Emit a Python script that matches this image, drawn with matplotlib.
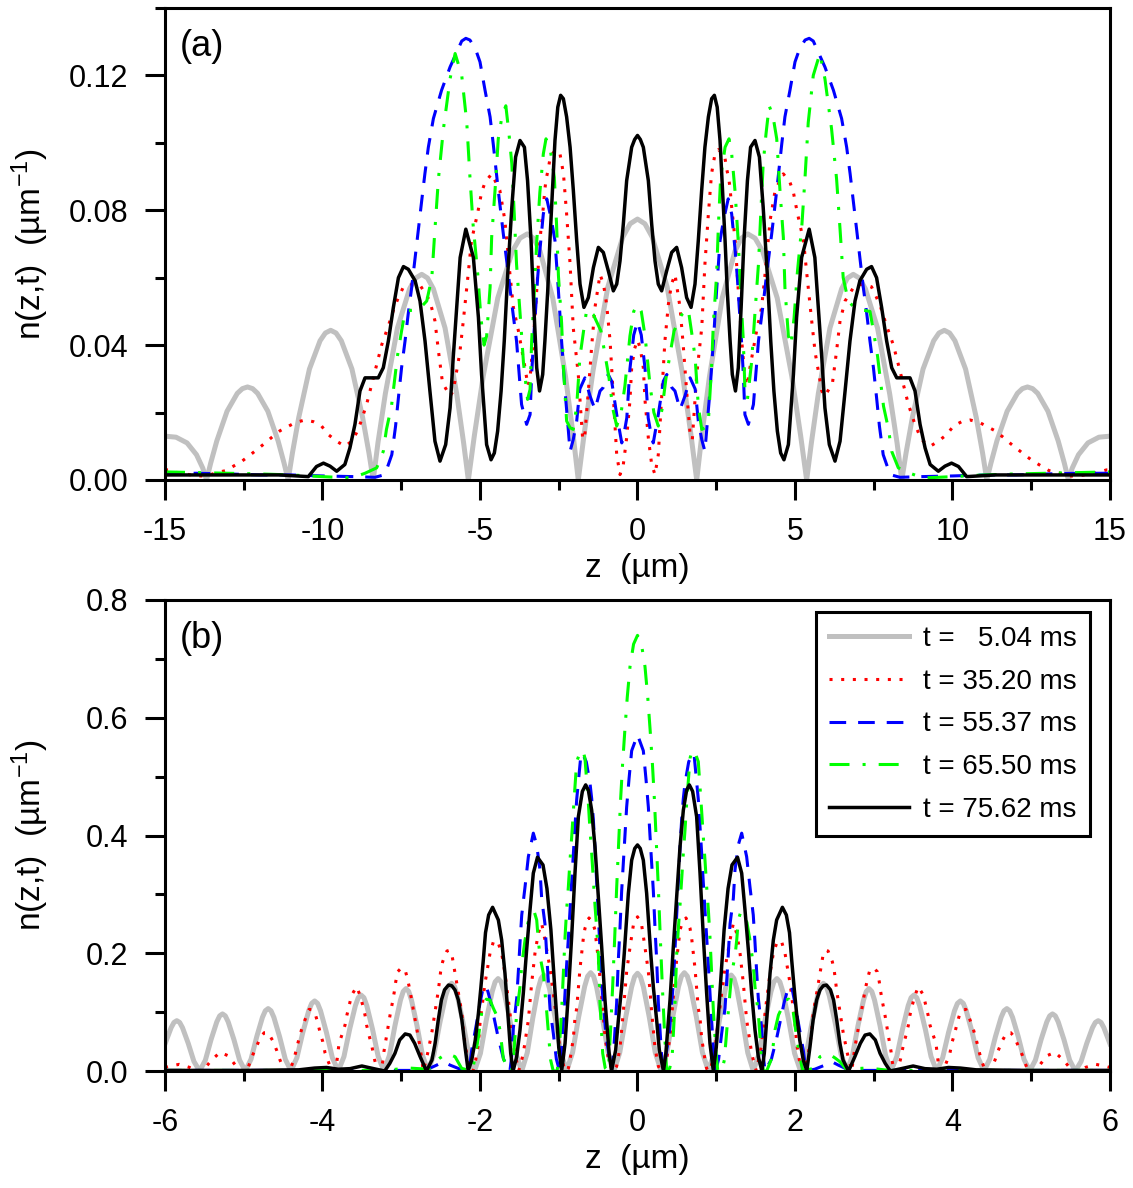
import numpy as np
import matplotlib
matplotlib.use('Agg')
import matplotlib.pyplot as plt
from matplotlib.ticker import MultipleLocator, FormatStrFormatter

# ---- data (z >= 0 half; the profiles are symmetric about z = 0) ----
# panel (a)
za_grey = [0, 0.235, 0.47, 0.94, 1.41, 1.69, 1.88,
           2.04, 2.285, 2.69, 3.095, 3.2975, 3.5, 3.734, 3.97, 4.435, 4.90, 5.18, 5.37,
           5.52, 5.74, 6.11, 6.48, 6.665, 6.85, 7.0425, 7.235, 7.62, 8.005, 8.24, 8.39,
           8.525, 8.7275, 9.065, 9.4025, 9.571, 9.74, 9.909, 10.0775, 10.415, 10.7525, 10.955, 11.09,
           11.22, 11.41, 11.735, 12.06, 12.219, 12.38, 12.5425, 12.705, 13.03, 13.355, 13.55, 13.68,
           13.8, 14.0, 14.3, 14.65, 15.0]
na_grey = [0.0774, 0.076, 0.072, 0.0573, 0.0325, 0.0139, 0.0,
           0.0131, 0.0307, 0.054, 0.0679, 0.0717, 0.073, 0.0717, 0.0679, 0.054, 0.0307, 0.0131, 0.0,
           0.011, 0.0256, 0.0451, 0.0567, 0.0599, 0.061, 0.0599, 0.0567, 0.0451, 0.0256, 0.011, 0.0,
           0.008, 0.0186, 0.0329, 0.0413, 0.0436, 0.0444, 0.0436, 0.0413, 0.0329, 0.0186, 0.008, 0.0,
           0.005, 0.0116, 0.0204, 0.0257, 0.0271, 0.0276, 0.0271, 0.0257, 0.0204, 0.0116, 0.005, 0.0,
           0.0035, 0.0075, 0.011, 0.0127, 0.013]

za_red = [0, 0.09, 0.185, 0.24, 0.344, 0.45, 0.555, 0.66, 0.77, 0.87,
          0.98, 1.08, 1.19, 1.35, 1.45, 1.56, 1.67, 1.74, 1.88, 2.04,
          2.14, 2.25, 2.35, 2.46, 2.57, 2.68, 2.78, 2.83, 2.90, 2.94,
          2.99, 3.10, 3.20, 3.31, 3.41, 3.48, 3.57, 3.78, 3.94, 4.05,
          4.21, 4.37, 4.63, 4.84, 4.95, 5.07, 5.27, 5.37, 5.53, 5.64,
          5.74, 5.85, 5.95, 6.19, 6.32, 6.43, 6.59, 6.91, 7.15, 7.43,
          7.59, 7.72, 7.91, 8.12, 8.28, 8.44, 8.60, 8.79, 8.92, 9.07,
          9.29, 9.55, 9.82, 10.03, 10.29, 10.56, 10.87, 11.09, 11.35, 11.58,
          11.83, 12.07, 12.30, 12.54, 12.81, 13.06, 13.36, 13.68, 13.99, 14.61,
          14.89, 15.0]
na_red = [0.0415, 0.039, 0.0333, 0.0235, 0.0125, 0.0046, 0.0016, 0.0075, 0.0254, 0.0412,
          0.0521, 0.0581, 0.061, 0.0512, 0.0402, 0.0264, 0.0135, 0.012, 0.0313, 0.0452,
          0.064, 0.0789, 0.0908, 0.0967, 0.098, 0.097, 0.0953, 0.0923, 0.0893, 0.0863,
          0.0809, 0.071, 0.0561, 0.0412, 0.0303, 0.028, 0.0333, 0.0442, 0.0512, 0.0611,
          0.077, 0.0859, 0.0908, 0.0883, 0.0853, 0.0794, 0.071, 0.0616, 0.0472, 0.0378,
          0.0323, 0.0264, 0.0249, 0.0288, 0.0383, 0.0472, 0.0531, 0.0579, 0.058, 0.0573,
          0.0541, 0.0512, 0.0457, 0.0401, 0.0343, 0.0283, 0.0224, 0.017, 0.014, 0.0115,
          0.010, 0.0115, 0.0135, 0.016, 0.0173, 0.0178, 0.017, 0.0159, 0.0146, 0.0129,
          0.0109, 0.0091, 0.0074, 0.0057, 0.0042, 0.0028, 0.0022, 0.0012, 0.0012, 0.0022,
          0.003, 0.003]

za_blue = [0, 0.12, 0.24, 0.34, 0.45, 0.5, 0.66, 0.82, 0.93, 1.09,
           1.19, 1.35, 1.51, 1.67, 1.83, 1.93, 2.04, 2.14, 2.30, 2.41,
           2.51, 2.62, 2.73, 2.88, 2.99, 3.10, 3.17, 3.23, 3.29, 3.36,
           3.41, 3.52, 3.68, 3.84, 4.0, 4.10, 4.26, 4.42, 4.58, 4.68,
           4.84, 5.0, 5.15, 5.32, 5.45, 5.58, 5.95, 6.22, 6.48, 6.64,
           6.75, 6.85, 6.96, 7.06, 7.17, 7.28, 7.38, 7.49, 7.59, 7.68,
           7.80, 8.02, 8.33, 9.0, 10.0, 11.0, 12.0, 13.0, 14.0, 15.0]
na_blue = [0.047, 0.043, 0.033, 0.0184, 0.0125, 0.011, 0.0194, 0.0293, 0.0313, 0.0274,
           0.0264, 0.0209, 0.025, 0.0303, 0.027, 0.0175, 0.012, 0.0085, 0.0264, 0.0412,
           0.0561, 0.071, 0.077, 0.0834, 0.0789, 0.068, 0.060, 0.0512, 0.0432, 0.0313,
           0.0194, 0.0165, 0.0224, 0.0412, 0.053, 0.0611, 0.073, 0.0859, 0.0997, 0.1077,
           0.1156, 0.124, 0.128, 0.1305, 0.131, 0.1302, 0.1225, 0.1156, 0.1072, 0.0987,
           0.0908, 0.0829, 0.074, 0.066, 0.057, 0.0492, 0.0412, 0.0333, 0.0244, 0.016,
           0.0075, 0.0016, 0.0008, 0.001, 0.0012, 0.0015, 0.0015, 0.0018, 0.002, 0.002]

za_green = [0, 0.12, 0.24, 0.40, 0.52, 0.66, 0.78, 0.905, 1.16, 1.40,
            1.61, 1.72, 1.83, 1.93, 2.04, 2.14, 2.25, 2.35, 2.41, 2.51,
            2.57, 2.64, 2.78, 2.905, 2.99, 3.10, 3.20, 3.27, 3.36, 3.41,
            3.49, 3.62, 3.73, 3.84, 3.91, 3.99, 4.08, 4.18, 4.30, 4.42,
            4.52, 4.63, 4.68, 4.79, 4.87, 4.97, 5.07, 5.22, 5.32, 5.42,
            5.58, 5.79, 5.95, 6.16, 6.32, 6.43, 6.53, 6.69, 6.95, 7.2,
            7.38, 7.49, 7.62, 7.81, 7.97, 8.07, 8.28, 8.65, 9.07, 10.0,
            11.0, 12.0, 13.0, 14.0, 15.0]
na_green = [0.052, 0.050, 0.0427, 0.0279, 0.020, 0.016, 0.021, 0.0303, 0.0442, 0.049,
            0.0507, 0.0437, 0.0363, 0.0219, 0.015, 0.0155, 0.0175, 0.0333, 0.0467, 0.0606,
            0.0759, 0.0898, 0.0987, 0.1012, 0.0967, 0.0853, 0.0705, 0.0566, 0.0412, 0.0269,
            0.0239, 0.0348, 0.0497, 0.064, 0.0784, 0.0938, 0.1027, 0.111, 0.108, 0.1012,
            0.0863, 0.072, 0.0571, 0.0427, 0.040, 0.048, 0.061, 0.0758, 0.090, 0.106,
            0.120, 0.1265, 0.119, 0.1042, 0.0893, 0.0744, 0.060, 0.0531, 0.0505, 0.0503,
            0.050, 0.0442, 0.0368, 0.0219, 0.015, 0.0085, 0.0036, 0.002, 0.0006, 0.001,
            0.0015, 0.0018, 0.002, 0.0022, 0.0024]

za_black = [0, 0.09, 0.185, 0.344, 0.45, 0.555, 0.66, 0.767, 0.925, 1.085,
            1.243, 1.40, 1.56, 1.70, 1.825, 1.93, 2.037, 2.14, 2.25, 2.354,
            2.44, 2.53, 2.62, 2.70, 2.78, 2.85, 2.94, 3.01, 3.11, 3.20,
            3.29, 3.38, 3.49, 3.59, 3.73, 3.87, 3.99, 4.12, 4.23, 4.33,
            4.44, 4.545, 4.65, 4.79, 4.95, 5.05, 5.21, 5.45, 5.63, 5.74,
            5.85, 5.95, 6.09, 6.27, 6.43, 6.59, 6.745, 6.905, 7.06, 7.275,
            7.43, 7.59, 7.75, 7.91, 8.07, 8.23, 8.44, 8.65, 8.81, 8.97,
            9.13, 9.29, 9.55, 9.76, 9.97, 10.19, 10.45, 10.82, 11.35, 12.5,
            13.5, 15.0]
na_black = [0.1022, 0.101, 0.0987, 0.0888, 0.0759, 0.065, 0.0581, 0.0561, 0.062, 0.0675,
            0.069, 0.063, 0.0541, 0.0512, 0.0581, 0.071, 0.0859, 0.0987, 0.1077, 0.1131,
            0.1141, 0.1106, 0.1007, 0.0859, 0.071, 0.0561, 0.0412, 0.0313, 0.0264, 0.0333,
            0.0512, 0.071, 0.0888, 0.0987, 0.1007, 0.0958, 0.0809, 0.0611, 0.0412, 0.0264,
            0.0145, 0.008, 0.006, 0.0105, 0.0313, 0.0482, 0.066, 0.0744, 0.066, 0.0512,
            0.0363, 0.0214, 0.0105, 0.0056, 0.0115, 0.0264, 0.0412, 0.0531, 0.0591, 0.0625,
            0.0633, 0.060, 0.0512, 0.0412, 0.0333, 0.0303, 0.0303, 0.0303, 0.0264, 0.0165,
            0.0095, 0.0046, 0.0026, 0.0041, 0.005, 0.004, 0.001, 0.0012, 0.0015, 0.0015,
            0.0015, 0.0015]

# panel (b)
zb_grey = [0, 0.0375, 0.075, 0.15, 0.225, 0.30,
           0.374, 0.4475, 0.521, 0.558, 0.595, 0.633, 0.671, 0.7475, 0.824, 0.90,
           0.9725, 1.045, 1.1175, 1.154, 1.19, 1.225, 1.26, 1.33, 1.40, 1.47,
           1.545, 1.62, 1.695, 1.7325, 1.77, 1.8075, 1.845, 1.92, 1.995, 2.07,
           2.1425, 2.215, 2.2875, 2.324, 2.36, 2.3975, 2.435, 2.51, 2.585, 2.66,
           2.73, 2.80, 2.87, 2.905, 2.94, 2.975, 3.01, 3.08, 3.15, 3.22,
           3.2925, 3.365, 3.4375, 3.474, 3.51, 3.546, 3.5825, 3.655, 3.7275, 3.80,
           3.875, 3.95, 4.025, 4.0625, 4.10, 4.1375, 4.175, 4.25, 4.325, 4.40,
           4.4725, 4.545, 4.6175, 4.654, 4.69, 4.726, 4.7625, 4.835, 4.9075, 4.98,
           5.0525, 5.125, 5.1975, 5.234, 5.27, 5.306, 5.3425, 5.415, 5.4875, 5.56,
           5.6325, 5.705, 5.7775, 5.814, 5.85, 5.886, 5.9225, 6.0]
nb_grey = [0.166, 0.160, 0.1428, 0.0913, 0.0315, 0,
           0.0317, 0.0919, 0.1436, 0.161, 0.167, 0.161, 0.1436, 0.0919, 0.0317, 0,
           0.031, 0.0897, 0.1402, 0.157, 0.163, 0.157, 0.1402, 0.0897, 0.031, 0,
           0.0298, 0.0864, 0.135, 0.1515, 0.157, 0.1515, 0.135, 0.0864, 0.0298, 0,
           0.0283, 0.082, 0.1281, 0.1438, 0.149, 0.1438, 0.1281, 0.082, 0.0283, 0,
           0.0266, 0.077, 0.1204, 0.1351, 0.140, 0.1351, 0.1204, 0.077, 0.0266, 0,
           0.0245, 0.071, 0.111, 0.1245, 0.129, 0.1245, 0.111, 0.071, 0.0245, 0,
           0.0226, 0.0655, 0.1023, 0.1148, 0.119, 0.1148, 0.1023, 0.0655, 0.0226, 0,
           0.0201, 0.0583, 0.0912, 0.1023, 0.106, 0.1023, 0.0912, 0.0583, 0.0201, 0,
           0.0184, 0.0534, 0.0834, 0.0936, 0.097, 0.0936, 0.0834, 0.0534, 0.0184, 0,
           0.0162, 0.047, 0.0735, 0.0825, 0.0855, 0.0825, 0.0735, 0.046]

zb_red = [0, 0.05, 0.09, 0.138, 0.18, 0.222, 0.265, 0.30,
          0.32, 0.37, 0.413, 0.455, 0.497, 0.54, 0.573, 0.616, 0.667, 0.688, 0.73, 0.751, 0.772, 0.794,
          0.815, 0.857, 0.878, 0.90,
          0.92, 0.98, 1.026, 1.069, 1.111, 1.175, 1.217, 1.26, 1.302, 1.344, 1.386, 1.45, 1.492, 1.51,
          1.57, 1.63, 1.683, 1.725, 1.767, 1.80, 1.83, 1.873, 1.915, 1.937, 1.96, 2.0, 2.02, 2.055, 2.09,
          2.12, 2.17, 2.21, 2.23, 2.275, 2.317, 2.36, 2.39, 2.42, 2.474, 2.50, 2.53, 2.57, 2.61, 2.66,
          2.69, 2.72,
          2.76, 2.80, 2.85, 2.89, 2.92, 2.95, 3.00, 3.045, 3.07, 3.088, 3.11, 3.135, 3.157, 3.177, 3.22,
          3.235, 3.26,
          3.30, 3.34, 3.376, 3.41, 3.44, 3.46, 3.49, 3.525, 3.566, 3.63, 3.69, 3.714, 3.747, 3.79, 3.82,
          3.85,
          3.88, 3.926, 3.968, 3.997, 4.03, 4.06, 4.095, 4.13, 4.17, 4.22, 4.265, 4.30, 4.33, 4.36, 4.40,
          4.42,
          4.48, 4.54, 4.58, 4.63, 4.69, 4.74, 4.785, 4.835, 4.886, 4.93, 4.96,
          5.05, 5.124, 5.20, 5.30, 5.40, 5.45, 5.52,
          5.60, 5.69, 5.82, 5.93, 6.0]
nb_red = [0.262, 0.25, 0.215, 0.1687, 0.1007, 0.04, 0.008, 0,
          0, 0.02, 0.058, 0.126, 0.1885, 0.2395, 0.2536, 0.26, 0.2423, 0.2253, 0.1744, 0.1404, 0.1065, 0.0895,
          0.0555, 0.0187, 0.0045, 0,
          0, 0.03, 0.0866, 0.132, 0.1744, 0.2225, 0.2508, 0.2338, 0.20, 0.149, 0.0866, 0.030, 0.0073, 0,
          0.04, 0.11, 0.166, 0.20, 0.217, 0.222, 0.2196, 0.20, 0.166, 0.149, 0.125, 0.081, 0.047, 0.0187, 0,
          0, 0.030, 0.064, 0.098, 0.132, 0.166, 0.20, 0.205, 0.2038, 0.1857, 0.1687, 0.136, 0.102, 0.0668, 0.0328,
          0.0158, 0,
          0.04, 0.0696, 0.1065, 0.1376, 0.1557, 0.1715, 0.175, 0.1687, 0.1517, 0.1347, 0.1177, 0.1007, 0.0837, 0.0668, 0.0328,
          0.0158, 0,
          0, 0.02, 0.044, 0.061, 0.078, 0.095, 0.112, 0.129, 0.143, 0.129, 0.095, 0.078, 0.064, 0.047, 0.013,
          0,
          0, 0.0158, 0.031, 0.050, 0.065, 0.082, 0.098, 0.104, 0.1047, 0.0877, 0.0708, 0.0538, 0.038, 0.021, 0.0062,
          0,
          0, 0.0187, 0.0345, 0.051, 0.065, 0.065, 0.058, 0.0425, 0.0272, 0.0113, 0,
          0, 0.013, 0.026, 0.0317, 0.0198, 0.0119, 0,
          0, 0.0062, 0.0113, 0.0085, 0.006]

zb_blue = [0, 0.074, 0.108, 0.138, 0.159, 0.18, 0.201, 0.225, 0.243, 0.265, 0.286, 0.307, 0.33,
           0.40, 0.455, 0.50, 0.54, 0.561, 0.582, 0.603, 0.65, 0.70, 0.72, 0.772, 0.794, 0.815, 0.836,
           0.857, 0.878, 0.90, 0.93, 0.96, 0.99,
           1.03, 1.069, 1.111, 1.132, 1.175, 1.217, 1.238, 1.28, 1.323, 1.386, 1.428, 1.47, 1.492, 1.513,
           1.534, 1.577, 1.598, 1.62,
           1.70, 1.767, 1.86, 1.92, 1.958, 2.0, 2.04, 2.105, 2.14,
           2.25, 2.38, 2.465, 2.55, 2.64, 2.75, 4.0, 6.0]
nb_blue = [0.571, 0.544, 0.4955, 0.448, 0.399, 0.354, 0.306, 0.235, 0.19, 0.115, 0.0685, 0.0243, 0,
           0.06, 0.149, 0.27, 0.38, 0.4275, 0.463, 0.4887, 0.525, 0.54, 0.535, 0.4615, 0.415, 0.3697, 0.3188,
           0.2735, 0.2253, 0.18, 0.11, 0.045, 0,
           0.02, 0.064, 0.1065, 0.15, 0.2497, 0.2933, 0.3414, 0.384, 0.404, 0.364, 0.313, 0.265, 0.218, 0.1687,
           0.1234, 0.0725, 0.0243, 0,
           0.02, 0.0555, 0.115, 0.145, 0.143, 0.115, 0.0838, 0.0357, 0,
           0.003, 0.01, 0.016, 0.010, 0.0045, 0.001, 0.001, 0.001]

zb_green = [0, 0.05, 0.095, 0.13, 0.16, 0.19, 0.215, 0.24, 0.265, 0.29, 0.315, 0.34, 0.37,
            0.41, 0.442, 0.476, 0.497, 0.52, 0.54, 0.582, 0.603, 0.624, 0.667, 0.688, 0.72, 0.772, 0.794,
            0.815, 0.836, 0.857, 0.878, 0.90, 0.92, 0.94, 0.963, 0.984, 1.005, 1.02,
            1.07, 1.103, 1.153, 1.196, 1.238, 1.26, 1.28, 1.31, 1.35, 1.39, 1.428, 1.47, 1.492, 1.534,
            1.556, 1.577, 1.60,
            1.64, 1.704, 1.746, 1.79, 1.83, 1.873, 1.92, 1.979, 2.02, 2.04, 2.08, 2.10,
            2.233, 2.317, 2.42, 2.51, 2.57, 2.65, 2.78, 2.9, 3.0, 3.2, 4.5, 6.0]
nb_green = [0.74, 0.725, 0.687, 0.635, 0.58, 0.52, 0.46, 0.385, 0.31, 0.225, 0.145, 0.075, 0,
            0.005, 0.030, 0.115, 0.197, 0.245, 0.282, 0.37, 0.409, 0.4547, 0.531, 0.5424, 0.545, 0.5254, 0.483,
            0.4404, 0.397, 0.358, 0.313, 0.2735, 0.228, 0.17, 0.1036, 0.058, 0.0187, 0,
            0, 0.0187, 0.1007, 0.166, 0.195, 0.2225, 0.2565, 0.27, 0.268, 0.252, 0.2225, 0.18, 0.143, 0.098,
            0.058, 0.0187, 0,
            0, 0.0215, 0.0696, 0.095, 0.1065, 0.1206, 0.122, 0.099, 0.058, 0.041, 0.012, 0,
            0.0045, 0.0243, 0.030, 0.022, 0.0158, 0.003, 0.004, 0.005, 0.004, 0.001, 0.001, 0.001]

zb_black = [0, 0.035, 0.074, 0.116, 0.168, 0.201, 0.243, 0.277, 0.33,
            0.36, 0.413, 0.455, 0.497, 0.54, 0.582, 0.624, 0.658, 0.70, 0.751, 0.794, 0.836, 0.878, 0.92, 0.963,
            1.0, 1.05, 1.10, 1.15, 1.20, 1.27, 1.323, 1.365, 1.408, 1.45, 1.492, 1.534, 1.58,
            1.61, 1.64, 1.683, 1.725, 1.767, 1.84, 1.89, 1.93, 1.958, 1.99, 2.02, 2.06, 2.105, 2.15,
            2.19, 2.23, 2.275, 2.317, 2.36, 2.40, 2.45, 2.49, 2.53, 2.57, 2.61, 2.68,
            2.76, 2.83, 2.89, 2.95, 3.02, 3.08, 3.145, 3.21,
            3.35, 3.50, 3.65, 3.8, 3.95, 4.1, 4.3, 5.0, 6.0]
nb_black = [0.384, 0.378, 0.358, 0.302, 0.20, 0.143, 0.0866, 0.0357, 0,
            0.030, 0.1206, 0.211, 0.296, 0.381, 0.443, 0.477, 0.486, 0.475, 0.432, 0.336, 0.228, 0.132, 0.047, 0,
            0.04, 0.14, 0.24, 0.31, 0.35, 0.363, 0.336, 0.2735, 0.2055, 0.132, 0.0696, 0.0243, 0,
            0.03, 0.0866, 0.166, 0.2225, 0.2565, 0.278, 0.265, 0.235, 0.1885, 0.14, 0.098, 0.0527, 0.0187, 0,
            0.041, 0.0866, 0.1206, 0.1376, 0.145, 0.146, 0.138, 0.1206, 0.0866, 0.047, 0.0187, 0,
            0.0243, 0.047, 0.061, 0.063, 0.0527, 0.030, 0.013, 0,
            0.004, 0.0085, 0.004, 0.003, 0.006, 0.005, 0.002, 0.001, 0.001]

labels = ['t =   5.04 ms', 't = 35.20 ms', 't = 55.37 ms', 't = 65.50 ms', 't = 75.62 ms']

# ---- fonts ----
plt.rcParams['font.family'] = ['Liberation Sans', 'DejaVu Sans']
plt.rcParams['mathtext.fontset'] = 'custom'
plt.rcParams['mathtext.rm'] = 'Liberation Sans'
plt.rcParams['mathtext.it'] = 'Liberation Sans:italic'
plt.rcParams['mathtext.default'] = 'regular'
plt.rcParams['axes.unicode_minus'] = False
plt.rcParams['lines.scale_dashes'] = False

styles = [
    dict(color='#c0c0c0', lw=3.6, ls='-'),
    dict(color='#ff0000', lw=2.2, ls=(0, (2.2, 6.2))),
    dict(color='#0000ff', lw=2.2, ls=(0, (12, 8.6))),
    dict(color='#00ff00', lw=2.2, ls=(0, (14.4, 9.4, 2.2, 9.4))),
    dict(color='black', lw=2.5, ls='-'),
]


def full(z, n):
    # reflect the z >= 0 half onto z < 0
    z = np.asarray(z, dtype=float)
    n = np.asarray(n, dtype=float)
    return np.concatenate([-z[:0:-1], z]), np.concatenate([n[:0:-1], n])


def style_axes(ax):
    for s in ax.spines.values():
        s.set_linewidth(2.2)
    ax.tick_params(which='both', direction='out', width=2.2, top=False, right=False,
                   labelsize=22, pad=12)
    ax.tick_params(which='major', length=14.4)
    ax.tick_params(which='minor', length=7.2)


fig = plt.figure(figsize=(11.33, 11.88), dpi=100)
ax1 = fig.add_axes([0.14563, 0.59596, 0.83407, 0.39731])
ax2 = fig.add_axes([0.14563, 0.09848, 0.83407, 0.39647])

panel_a = [(za_grey, na_grey), (za_red, na_red), (za_blue, na_blue), (za_green, na_green), (za_black, na_black)]
panel_b = [(zb_grey, nb_grey), (zb_red, nb_red), (zb_blue, nb_blue), (zb_green, nb_green), (zb_black, nb_black)]

for (z, n), st in zip(panel_a, styles):
    zz, nn = full(z, n)
    ax1.plot(zz, nn, color=st['color'], lw=st['lw'], linestyle=st['ls'])

for (z, n), st, lab in zip(panel_b, styles, labels):
    zz, nn = full(z, n)
    ax2.plot(zz, nn, color=st['color'], lw=st['lw'], linestyle=st['ls'], label=lab)

ax1.set_xlim(-15, 15)
ax1.set_ylim(0, 0.14)
ax1.xaxis.set_major_locator(MultipleLocator(5))
ax1.xaxis.set_minor_locator(MultipleLocator(2.5))
ax1.yaxis.set_major_locator(MultipleLocator(0.04))
ax1.yaxis.set_minor_locator(MultipleLocator(0.02))
ax1.yaxis.set_major_formatter(FormatStrFormatter('%.2f'))
ax1.xaxis.set_major_formatter(FormatStrFormatter('%g'))

ax2.set_xlim(-6, 6)
ax2.set_ylim(0, 0.8)
ax2.xaxis.set_major_locator(MultipleLocator(2))
ax2.xaxis.set_minor_locator(MultipleLocator(1))
ax2.yaxis.set_major_locator(MultipleLocator(0.2))
ax2.yaxis.set_minor_locator(MultipleLocator(0.1))
ax2.yaxis.set_major_formatter(FormatStrFormatter('%.1f'))
ax2.xaxis.set_major_formatter(FormatStrFormatter('%g'))

for ax, tag in [(ax1, '(a)'), (ax2, '(b)')]:
    style_axes(ax)
    ax.set_xlabel('z  (µm)', fontsize=24)
    ax.set_ylabel('n(z,t)  (µm$^{-1}$)', fontsize=24)
    ax.xaxis.set_label_coords(0.5, -0.155)
    ax.yaxis.set_label_coords(-0.121, 0.5)
    ax.text(0.016, 0.955, tag, transform=ax.transAxes, fontsize=26, ha='left', va='top')

leg = ax2.legend(loc='upper right', bbox_to_anchor=(0.979, 0.9745), fontsize=20, frameon=True,
                 fancybox=False, edgecolor='black', framealpha=1, handlelength=2.88,
                 handletextpad=0.47, labelspacing=0.6, borderpad=0.5, borderaxespad=0)
leg.get_frame().set_linewidth(2.2)

fig.savefig('out.png', dpi=100)
